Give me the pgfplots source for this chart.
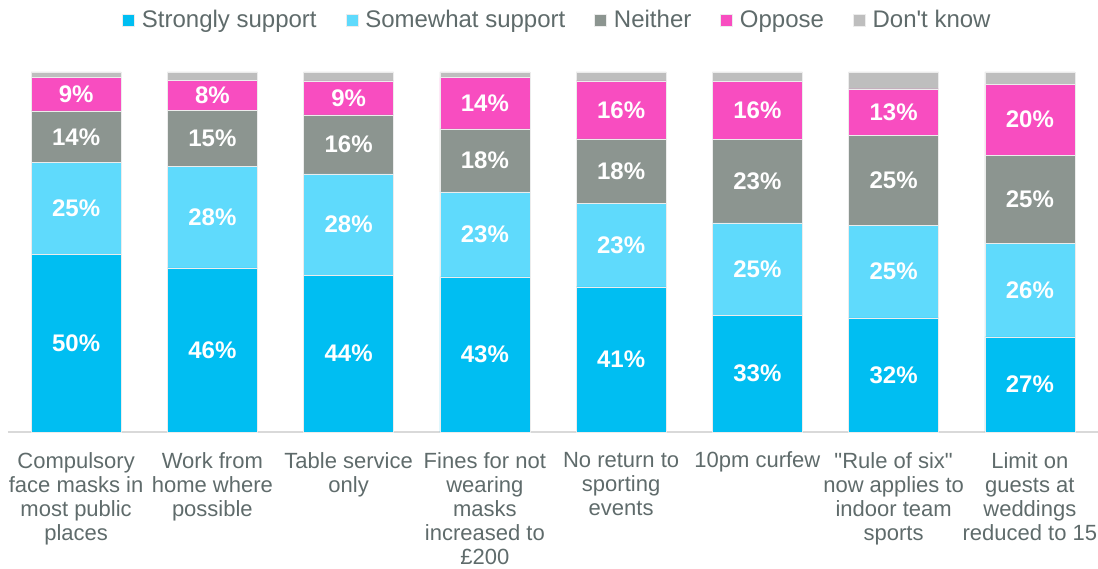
\documentclass[border=0pt]{standalone}
\usepackage{pgfplots}
\usepackage{pgfplotstable}
\pgfplotsset{compat=1.18}
\usepackage{fontspec}
\setmainfont{Liberation Sans}
\definecolor{cS}{HTML}{00BEF2}
\definecolor{cW}{HTML}{5FDAFC}
\definecolor{cN}{HTML}{8C9590}
\definecolor{cO}{HTML}{F84DC0}
\definecolor{cD}{HTML}{BEBEBE}
\definecolor{tgray}{HTML}{5F6B6B}
\pgfplotstableread{
x s sl w wl n nl o ol d
0 49.4 50 25.4 25 14.4 14 9.4 9 1.4
1 45.6 46 28.1 28 15.6 15 8.3 8 2.4
2 43.6 44 28.1 28 16.4 16 9.4 9 2.5
3 43.1 43 23.6 23 17.5 18 14.2 14 1.6
4 40.3 41 23.3 23 17.8 18 16.1 16 2.5
5 32.5 33 25.6 25 23.1 23 16.1 16 2.7
6 31.7 32 25.8 25 24.8 25 13.0 13 4.7
7 26.4 27 26.1 26 24.4 25 19.7 20 3.4
}\data
\begin{document}
\begin{tikzpicture}
\begin{axis}[
  width=545pt, height=180pt, scale only axis,
  xmin=-0.5, xmax=7.5, ymin=0, ymax=100,
  ybar stacked, bar width=45pt,
  axis x line*=bottom, axis y line=none,
  x axis line style={draw=black!15, line width=0.8pt},
  xtick={0,...,7},
  xticklabels={{Compulsory\\face masks in\\most public\\places},
    {Work from\\home where\\possible},
    {Table service\\only},
    {Fines for not\\wearing\\masks\\increased to\\£200},
    {No return to\\sporting\\events},
    {10pm curfew},
    {\textquotedbl Rule of six\textquotedbl\\now applies to\\indoor team\\sports},
    {Limit on\\guests at\\weddings\\reduced to 15}},
  xticklabel style={align=center, font=\fontsize{11}{12}\selectfont, text=tgray, yshift=-6.5pt},
  major tick length=0pt,
  /pgf/number format/assume math mode=true,
  legend columns=-1,
  legend style={at={(0.505,1.144)}, anchor=center, draw=none,
    font=\fontsize{12}{14}\selectfont, text=tgray,
    /tikz/every odd column/.append style={column sep=1.5pt},
    /tikz/every even column/.append style={column sep=12.5pt}},
  legend image code/.code={\fill[#1] (0pt,-3pt) rectangle (6pt,3pt);},
  lbl/.style={point meta=explicit,
    nodes near coords={\pgfmathprintnumber{\pgfplotspointmeta}\%},
    every node near coord/.append style={anchor=center, text=white,
      font=\fontsize{12}{14}\selectfont\bfseries}},
  every axis plot/.append style={draw=white!85!gray, line width=0.3pt},
]
\addplot[fill=cS, lbl] table[x=x, y=s, meta=sl]{\data};
\addplot[fill=cW, lbl] table[x=x, y=w, meta=wl]{\data};
\addplot[fill=cN, lbl] table[x=x, y=n, meta=nl]{\data};
\addplot[fill=cO, lbl] table[x=x, y=o, meta=ol]{\data};
\addplot[fill=cD] table[x=x, y=d]{\data};
\legend{Strongly support, Somewhat support, Neither, Oppose, Don\textquotesingle t know}
\coordinate (bl) at (rel axis cs:0,0);
\end{axis}
\pgfresetboundingbox
\path (bl) ++(-4pt,-68pt) rectangle ++(549pt,284pt);
\end{tikzpicture}
\end{document}
